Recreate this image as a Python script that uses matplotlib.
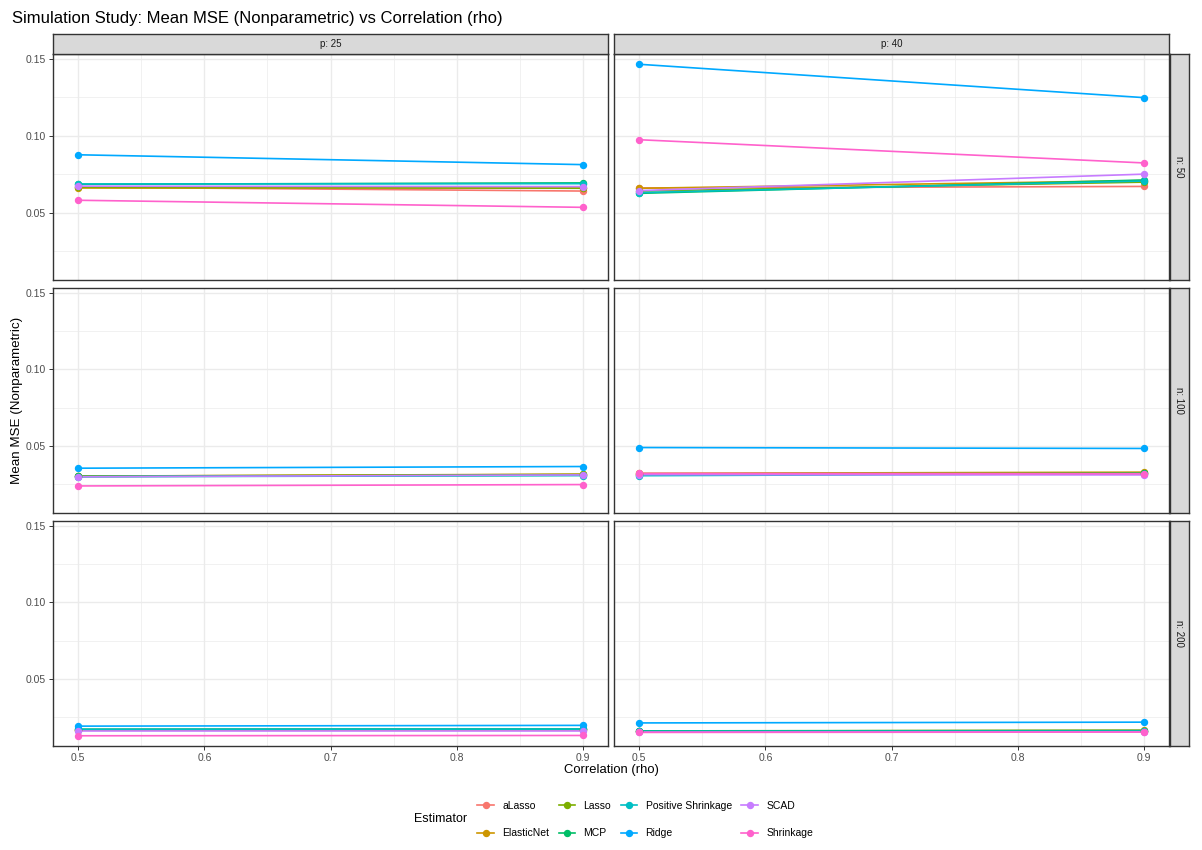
import numpy as np
import matplotlib
matplotlib.use("Agg")
import matplotlib.pyplot as plt
from matplotlib.lines import Line2D

plt.rcParams["font.family"] = ["Liberation Sans", "DejaVu Sans"]

# Data: Mean MSE at rho = 0.5 and 0.9, panels in order
# (n50,p25) (n50,p40) (n100,p25) (n100,p40) (n200,p25) (n200,p40)
rho = [0.5, 0.9]
p_levels = [25, 40]
n_levels = [50, 100, 200]
estimators = ["aLasso", "ElasticNet", "Lasso", "MCP",
              "Positive Shrinkage", "Ridge", "SCAD", "Shrinkage"]
colors = ["#F8766D", "#CD9600", "#7CAE00", "#00BE67",
          "#00BFC4", "#00A9FF", "#C77CFF", "#FF61CC"]

alasso = [0.0665, 0.0640, 0.0660, 0.0670, 0.0300, 0.0312, 0.0318, 0.0322, 0.0166, 0.0166, 0.0160, 0.0160]
elasticnet = [0.0660, 0.0660, 0.0658, 0.0708, 0.0302, 0.0315, 0.0320, 0.0328, 0.0168, 0.0170, 0.0158, 0.0164]
lasso = [0.0665, 0.0658, 0.0640, 0.0698, 0.0302, 0.0313, 0.0316, 0.0324, 0.0168, 0.0170, 0.0160, 0.0162]
mcp = [0.0684, 0.0693, 0.0625, 0.0712, 0.0300, 0.0308, 0.0310, 0.0320, 0.0170, 0.0172, 0.0160, 0.0162]
pos_shrinkage = [0.0686, 0.0688, 0.0630, 0.0705, 0.0298, 0.0306, 0.0305, 0.0318, 0.0170, 0.0172, 0.0157, 0.0158]
ridge = [0.0876, 0.0812, 0.1465, 0.1248, 0.0354, 0.0365, 0.0489, 0.0483, 0.0191, 0.0196, 0.0212, 0.0217]
scad = [0.0672, 0.0669, 0.0643, 0.0750, 0.0298, 0.0310, 0.0312, 0.0310, 0.0160, 0.0160, 0.0152, 0.0154]
shrinkage = [0.0580, 0.0534, 0.0974, 0.0823, 0.0238, 0.0247, 0.0320, 0.0318, 0.0128, 0.0130, 0.0150, 0.0152]

series = [alasso, elasticnet, lasso, mcp, pos_shrinkage, ridge, scad, shrinkage]

W, H = 1202, 850
fig = plt.figure(figsize=(W / 100, H / 100), dpi=100)


def box(x0, y0, x1, y1):
    # pixel box (top-left origin) -> figure fraction rect
    return [x0 / W, 1 - y1 / H, (x1 - x0) / W, (y1 - y0) / H]


col_x = [(53, 608), (614, 1169)]
row_y = [(54, 280), (288, 513), (521, 746)]

allv = np.concatenate([np.array(s) for s in series])
ymin, ymax = allv.min(), allv.max()
pad = 0.05 * (ymax - ymin)
ylim = (ymin - pad, ymax + pad)
xlim = (0.5 - 0.02, 0.9 + 0.02)

border = "#333333"
grid_c = "#EBEBEB"

for r, n in enumerate(n_levels):
    for c, p in enumerate(p_levels):
        (x0, x1), (y0, y1) = col_x[c], row_y[r]
        ax = fig.add_axes(box(x0, y0, x1, y1))
        k = r * 2 + c
        for name, col, vals in zip(estimators, colors, series):
            yv = vals[2 * k:2 * k + 2]
            ax.plot(rho, yv, color=col, lw=1.2, zorder=3)
            ax.plot(rho, yv, "o", color=col, ms=4.3, zorder=4)
        ax.set_xlim(xlim)
        ax.set_ylim(ylim)
        ax.set_xticks([0.5, 0.6, 0.7, 0.8, 0.9])
        ax.set_xticks([0.55, 0.65, 0.75, 0.85], minor=True)
        ax.set_yticks([0.05, 0.10, 0.15])
        ax.set_yticks([0.025, 0.075, 0.125], minor=True)
        ax.grid(True, which="major", color=grid_c, lw=1.0, zorder=0)
        ax.grid(True, which="minor", color=grid_c, lw=0.5, zorder=0)
        ax.tick_params(which="minor", length=0)
        ax.tick_params(which="major", length=3, color=border, width=0.7,
                       labelsize=7.5, labelcolor="#4D4D4D", pad=2)
        ax.set_xticklabels(["0.5", "0.6", "0.7", "0.8", "0.9"])
        ax.set_yticklabels(["0.05", "0.10", "0.15"])
        if c != 0:
            ax.tick_params(axis="y", left=False, labelleft=False)
        if r != 2:
            ax.tick_params(axis="x", bottom=False, labelbottom=False)
        for s in ax.spines.values():
            s.set_color(border)
            s.set_linewidth(1.0)
            s.set_zorder(5)

        if r == 0:
            sax = fig.add_axes(box(x0, 34, x1, 54))
            sax.set_facecolor("#D9D9D9")
            sax.set_xticks([])
            sax.set_yticks([])
            for s in sax.spines.values():
                s.set_color(border)
                s.set_linewidth(1.0)
            sax.text(0.5, 0.5, f"p: {p}", ha="center", va="center",
                     fontsize=7, color="#1A1A1A", transform=sax.transAxes)
        if c == 1:
            sax = fig.add_axes(box(1170, y0, 1189, y1))
            sax.set_facecolor("#D9D9D9")
            sax.set_xticks([])
            sax.set_yticks([])
            for s in sax.spines.values():
                s.set_color(border)
                s.set_linewidth(1.0)
            sax.text(0.5, 0.5, f"n: {n}", ha="center", va="center",
                     rotation=-90, fontsize=7, color="#1A1A1A",
                     transform=sax.transAxes)

fig.text(12 / W, 1 - 19 / H, "Simulation Study: Mean MSE (Nonparametric) vs Correlation (rho)",
         ha="left", va="center", fontsize=12)
fig.text(611 / W, 1 - 770 / H, "Correlation (rho)", ha="center", va="center", fontsize=9.4)
fig.text(17 / W, 1 - 400 / H, "Mean MSE (Nonparametric)", ha="center", va="center",
         rotation=90, fontsize=9.6)

# legend
fig.text(414 / W, 1 - 819 / H, "Estimator", ha="left", va="center", fontsize=9)
handles = [Line2D([0], [0], color=col, lw=1.2, marker="o", ms=4.3) for col in colors]
fig.legend(handles, estimators, ncol=4, loc="center left",
           bbox_to_anchor=(472 / W, 1 - 819.5 / H), frameon=False,
           fontsize=7.5, handlelength=1.6, handletextpad=0.8,
           columnspacing=0.9, labelspacing=1.7, borderpad=0)

fig.savefig("out.png", dpi=100)
